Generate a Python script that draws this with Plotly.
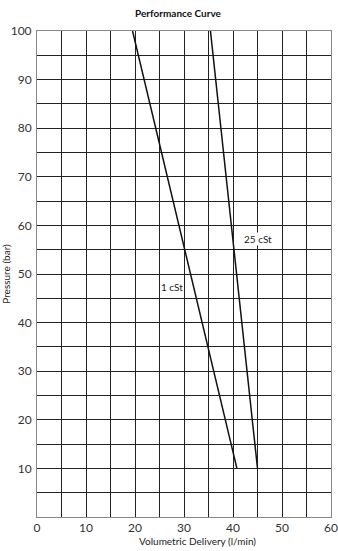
import plotly.graph_objects as go

# Data
flow_1cst = [19.5, 40.8]
pressure_1cst = [100, 10]
flow_25cst = [35.4, 45.0]
pressure_25cst = [100, 10]

x_ticks = [0, 10, 20, 30, 40, 50, 60]
y_ticks = [10, 20, 30, 40, 50, 60, 70, 80, 90, 100]

FONT = "Lato, 'Open Sans', sans-serif"

fig = go.Figure()
fig.add_trace(go.Scatter(x=flow_1cst, y=pressure_1cst, mode="lines",
                         line=dict(color="#111111", width=1.5), showlegend=False))
fig.add_trace(go.Scatter(x=flow_25cst, y=pressure_25cst, mode="lines",
                         line=dict(color="#111111", width=1.5), showlegend=False))

fig.add_annotation(x=27.6, y=47.3, text="1 cSt", showarrow=False,
                   font=dict(family=FONT, size=10, color="#222"))
fig.add_annotation(x=45.0, y=57.2, text="25 cSt", showarrow=False,
                   bgcolor="white", borderpad=0,
                   font=dict(family=FONT, size=10, color="#222"))

fig.add_annotation(xref="paper", yref="paper", x=0.48, y=1, yanchor="middle", yshift=18,
                   text="<b>Performance Curve</b>", showarrow=False,
                   font=dict(family=FONT, size=10, color="#111"))
fig.add_annotation(xref="paper", yref="paper", x=0.545, y=0, yanchor="top", yshift=-16,
                   text="Volumetric Delivery (l/min)", showarrow=False,
                   font=dict(family=FONT, size=10, color="#222"))

grid = "#222222"
fig.update_xaxes(range=[0, 60], tickvals=x_ticks, showgrid=True, gridcolor=grid, gridwidth=1,
                 minor=dict(dtick=5, tick0=0, showgrid=True, gridcolor=grid, gridwidth=1),
                 showline=True, linecolor="#888", linewidth=1, mirror=True,
                 ticks="", zeroline=False, automargin=False, ticklabelstandoff=0,
                 tickfont=dict(family=FONT, size=12, color="#333"))
fig.update_yaxes(range=[0, 100], tickvals=y_ticks, showgrid=True, gridcolor=grid, gridwidth=1,
                 minor=dict(dtick=5, tick0=0, showgrid=True, gridcolor=grid, gridwidth=1),
                 showline=True, linecolor="#888", linewidth=1, mirror=True,
                 ticks="", zeroline=False, ticklabelstandoff=2, automargin=False,
                 tickfont=dict(family=FONT, size=12, color="#333"),
                 title=dict(text="Pressure (bar)", standoff=2,
                            font=dict(family=FONT, size=10, color="#222")))

fig.update_layout(width=338, height=551, margin=dict(l=37, r=7, t=31, b=34),
                  plot_bgcolor="white", paper_bgcolor="white")

fig.write_html("out.html")
